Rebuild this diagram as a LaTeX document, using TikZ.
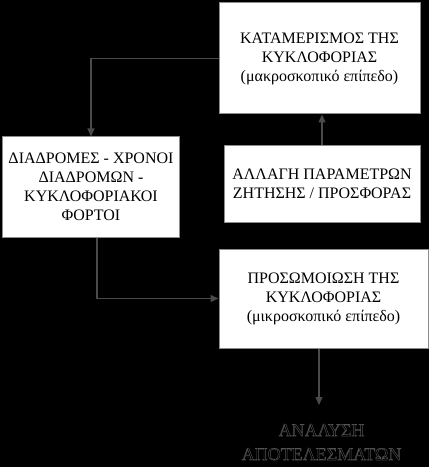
\documentclass[tikz,border=0pt]{standalone}
\usepackage{fontspec}
\setmainfont{Liberation Serif}
\usetikzlibrary{arrows.meta}
\definecolor{linegray}{HTML}{4A4A4A}
\definecolor{edgegray}{HTML}{8C8C8C}
\newcommand{\outlinetext}[1]{\special{pdf:literal direct 1 Tr 0.33 0.33 0.33 RG 0.45 w}#1\special{pdf:literal direct 0 Tr}}
\tikzset{
  box/.style={draw=edgegray, line width=1bp, fill=white, text=black, align=center,
    font=\fontsize{16bp}{19bp}\selectfont, inner sep=0pt},
  arr/.style={draw=linegray, line width=1.3bp, -{Triangle[length=8bp,width=7bp]}},
  restext/.style={text=black, align=center, font=\fontsize{18bp}{24bp}\selectfont,
    inner xsep=0pt, inner ysep=19bp}
}
\begin{document}
\begin{tikzpicture}[x=1bp,y=-1bp]
\fill[black] (0,0) rectangle (429,467);
\useasboundingbox (0,0) rectangle (429,467);
\node[box, minimum width=201bp, minimum height=111bp] (kat) at (319.5,58.5)
  {ΚΑΤΑΜΕΡΙΣΜΟΣ ΤΗΣ\\ΚΥΚΛΟΦΟΡΙΑΣ\\(μακροσκοπικό επίπεδο)};
\node[box, minimum width=176bp, minimum height=100bp] (diad) at (91,187)
  {ΔΙΑΔΡΟΜΕΣ - ΧΡΟΝΟΙ\\ΔΙΑΔΡΟΜΩΝ -\\ΚΥΚΛΟΦΟΡΙΑΚΟΙ\\ΦΟΡΤΟΙ};
\node[box, minimum width=196bp, minimum height=76bp] (allagi) at (322,184)
  {ΑΛΛΑΓΗ ΠΑΡΑΜΕΤΡΩΝ\\ΖΗΤΗΣΗΣ / ΠΡΟΣΦΟΡΑΣ};
\node[box, minimum width=209bp, minimum height=99bp] (pros) at (323.5,298.5)
  {ΠΡΟΣΩΜΟΙΩΣΗ ΤΗΣ\\ΚΥΚΛΟΦΟΡΙΑΣ\\(μικροσκοπικό επίπεδο)};
\node[restext, anchor=north] (res) at (321.5,405)
  {\outlinetext{ΑΝΑΛΥΣΗ}\\\outlinetext{ΑΠΟΤΕΛΕΣΜΑΤΩΝ}};
\draw[arr] (kat.west) -| (diad.north);
\draw[arr] (allagi.north) -- (allagi.north |- kat.south);
\draw[arr] ([xshift=6bp]diad.south) |- (pros.west);
\draw[arr] ([xshift=-4.5bp]pros.south) -- ([xshift=-4.5bp]pros.south |- res.north);
\end{tikzpicture}
\end{document}
